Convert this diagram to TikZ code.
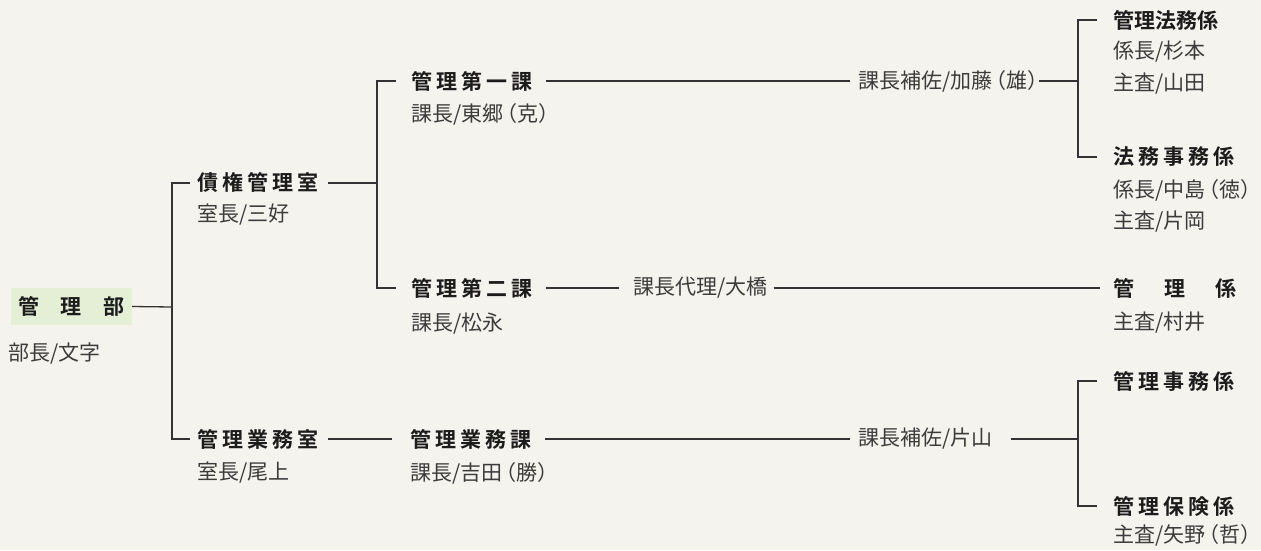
\documentclass[tikz,border=0pt]{standalone}
\usepackage{fontspec}
\setmainfont{Noto Sans CJK JP}[BoldFont={Noto Sans CJK JP Bold},RawFeature=+halt]
\definecolor{bgcol}{HTML}{F5F3EE}
\definecolor{boxcol}{HTML}{E4EFD6}
\definecolor{namecol}{HTML}{1C1C1C}
\definecolor{subcol}{HTML}{3C3C3C}
\definecolor{linecol}{HTML}{333333}
\newcommand\ls{\hspace{4pt}}
\newcommand\pg{\hspace{4pt}}
\begin{document}
\begin{tikzpicture}[x=1pt,y=-1pt,
  namebox/.style={anchor=west,inner sep=0pt,font=\fontsize{21}{24}\selectfont\bfseries,text=namecol},
  subtext/.style={anchor=west,inner sep=0pt,font=\fontsize{21}{24}\selectfont,text=subcol},
  conn/.style={draw=linecol,line width=1.3pt}]
\fill[bgcol] (0,0) rectangle (1261,550);
\useasboundingbox (0,0) rectangle (1261,550);

% root
\node[fill=boxcol,minimum width=121pt,minimum height=37pt,inner sep=0pt,
      font=\fontsize{21}{24}\selectfont\bfseries,text=namecol] (bu) at (71.5,306.5)
      {管\hspace{22pt}理\hspace{22pt}部};
\node[subtext] (bucho) at (8,354) {部長/文字};

% level 2
\node[namebox] (saiken) at (197,183) {債\ls 権\ls 管\ls 理\ls 室};
\node[subtext] (saikenc) at (197,215) {室長/三好};
\node[namebox] (gyomu) at (197,439) {管\ls 理\ls 業\ls 務\ls 室};
\node[subtext] (gyomuc) at (197,473) {室長/尾上};

% level 3
\node[namebox] (k1) at (411,81) {管\ls 理\ls 第\ls 一\ls 課};
\node[subtext] (k1c) at (411,114) {課長/東郷\pg（克）};
\node[namebox] (k2) at (411,288) {管\ls 理\ls 第\ls 二\ls 課};
\node[subtext] (k2c) at (411,324) {課長/松永};
\node[namebox] (gk) at (410,439) {管\ls 理\ls 業\ls 務\ls 課};
\node[subtext] (gkc) at (410,473) {課長/吉田\pg（勝）};

% assistants
\node[subtext] (kato) at (858,81) {課長補佐/加藤\pg（雄）};
\node[subtext] (oohashi) at (633,288) {課長代理/大橋};
\node[subtext] (katayama) at (858,439) {課長補佐/片山};

% level 4
\node[namebox] (hk) at (1113,20) {管理法務係};
\node[subtext] (hk1) at (1113,52) {係長/杉本};
\node[subtext] (hk2) at (1113,84) {主査/山田};
\node[namebox] (hj) at (1113,157) {法\ls 務\ls 事\ls 務\ls 係};
\node[subtext] (hj1) at (1113,190) {係長/中島\pg（徳）};
\node[subtext] (hj2) at (1113,222) {主査/片岡};
\node[namebox] (kg) at (1113,288) {管\hspace{30pt}理\hspace{30pt}係};
\node[subtext] (kg1) at (1113,323) {主査/村井};
\node[namebox] (kj) at (1113,381) {管\ls 理\ls 事\ls 務\ls 係};
\node[namebox] (kh) at (1113,506) {管\ls 理\ls 保\ls 険\ls 係};
\node[subtext] (kh1) at (1113,535) {主査/矢野\pg（哲）};

% junctions
\coordinate (j1) at (172,307);
\coordinate (j2) at (377,183);
\coordinate (j3) at (1078,81);
\coordinate (j4) at (1078,439);

% connectors
\draw[conn] (bu.east) -- (j1);
\draw[conn] ([xshift=-7pt]saiken.west) -| (j1) |- ([xshift=-7pt]gyomu.west);
\draw[conn] ([xshift=10pt]saiken.east) -- (j2);
\draw[conn] ([xshift=-15pt]k1.west) -| (j2) |- ([xshift=-15pt]k2.west);
\draw[conn] ([xshift=14pt]k1.east) -- ([xshift=-8pt]kato.west);
\draw[conn] ([xshift=0pt]kato.east) -- (j3);
\draw[conn] ([xshift=-16pt]hk.west) -| (j3) |- ([xshift=-16pt]hj.west);
\draw[conn] ([xshift=14pt]k2.east) -- ([xshift=-14pt]oohashi.west);
\draw[conn] ([xshift=6pt]oohashi.east) -- ([xshift=-13pt]kg.west);
\draw[conn] ([xshift=10pt]gyomu.east) -- ([xshift=-18pt]gk.west);
\draw[conn] ([xshift=14pt]gk.east) -- ([xshift=-8pt]katayama.west);
\draw[conn] ([xshift=18pt]katayama.east) -- (j4);
\draw[conn] ([xshift=-16pt]kj.west) -| (j4) |- ([xshift=-16pt]kh.west);
\end{tikzpicture}
\end{document}
